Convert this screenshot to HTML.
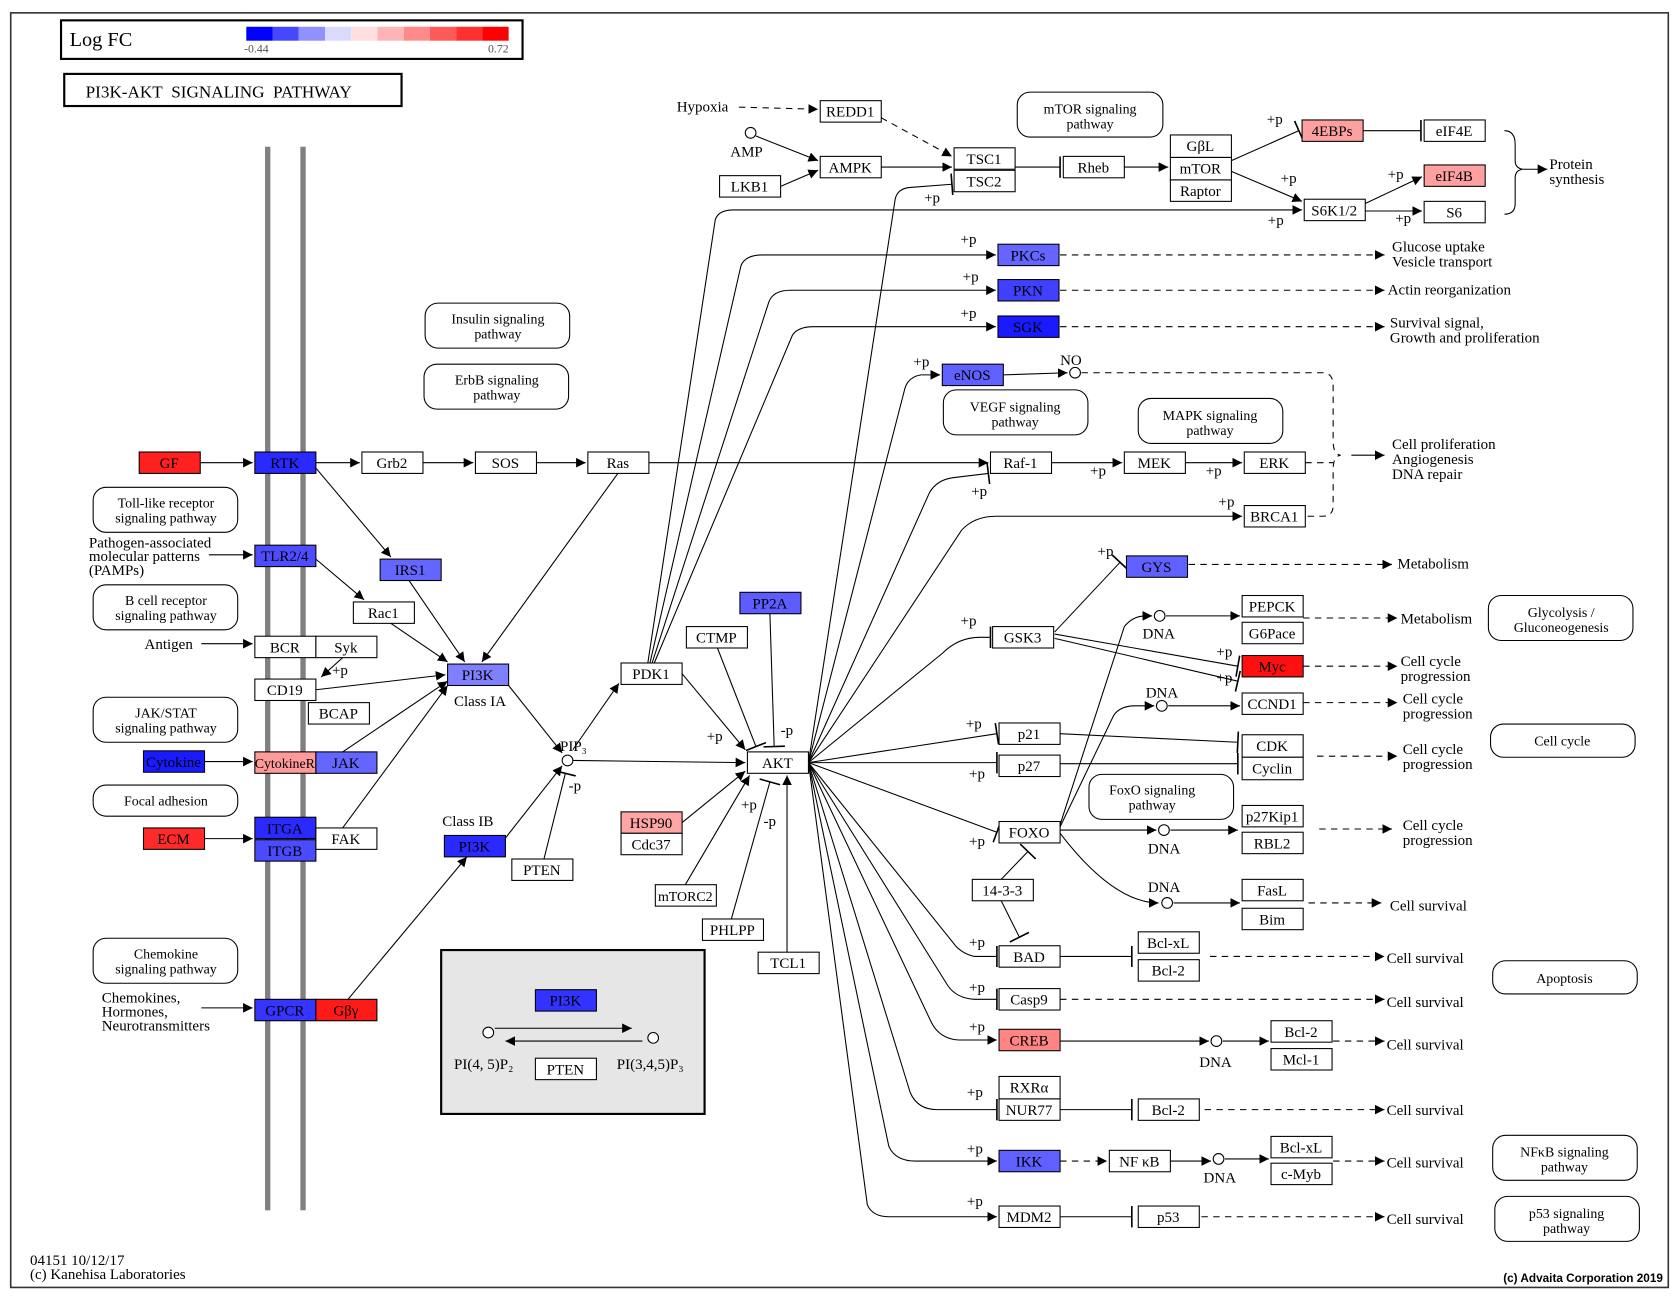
<!DOCTYPE html>
<html><head><meta charset="utf-8"><style>
html,body{margin:0;padding:0;background:#fff;}
svg{display:block;}
text{font-family:"Liberation Serif",serif;font-size:14px;fill:#000;}
.c{text-anchor:middle;}
.s{font-size:13px;}
.n{stroke:#000;stroke-width:1;}
.e{stroke:#000;stroke-width:1;fill:none;}
.d{stroke:#000;stroke-width:1;fill:none;stroke-dasharray:6,5;}
.pw{fill:#fff;stroke:#000;stroke-width:1;}
</style></head><body>
<svg width="1679" height="1296" viewBox="0 0 1568 1210" preserveAspectRatio="none" xmlns="http://www.w3.org/2000/svg">
<defs>
<marker id="a" viewBox="0 0 10 10" refX="10" refY="5" markerWidth="9" markerHeight="9" orient="auto" markerUnits="userSpaceOnUse"><path d="M0,0L10,5L0,10z" fill="#000"/></marker>
<marker id="t" viewBox="0 0 4 20" refX="2" refY="10" markerWidth="4" markerHeight="20" orient="auto" markerUnits="userSpaceOnUse"><path d="M2,0V20" stroke="#000" stroke-width="1.5"/></marker>
</defs>
<rect x="0" y="0" width="1568" height="1210" fill="#fff"/>
<rect x="10" y="12" width="1548" height="1190" fill="none" stroke="#333" stroke-width="1.5"/>
<rect x="57" y="19" width="431" height="36" fill="#fff" stroke="#000" stroke-width="2"/>
<text x="65" y="43" style="font-size:19px">Log FC</text>
<g>
<rect x="230" y="25" width="24.5" height="13" fill="#0000ff"/><rect x="254.5" y="25" width="24.5" height="13" fill="#4747ff"/><rect x="279" y="25" width="24.5" height="13" fill="#9090ff"/><rect x="303.5" y="25" width="24.5" height="13" fill="#dadaff"/><rect x="328" y="25" width="24.5" height="13" fill="#ffdfdf"/><rect x="352.5" y="25" width="24.5" height="13" fill="#ffb5b5"/><rect x="377" y="25" width="24.5" height="13" fill="#ff8a8a"/><rect x="401.5" y="25" width="24.5" height="13" fill="#ff5a5a"/><rect x="426" y="25" width="24.5" height="13" fill="#ff3030"/><rect x="450.5" y="25" width="24.5" height="13" fill="#ff0000"/>
</g>
<text x="228" y="49" style="font-size:11px;fill:#555">-0.44</text>
<text x="475" y="49" style="font-size:11px;fill:#555;text-anchor:end">0.72</text>
<rect x="60" y="69" width="315" height="30" fill="#fff" stroke="#000" stroke-width="2"/>
<text x="80" y="91" style="font-size:16px">PI3K-AKT&#160; SIGNALING&#160; PATHWAY</text>
<rect x="247.5" y="137" width="5" height="993" fill="#808080"/>
<rect x="280.5" y="137" width="5" height="993" fill="#808080"/>

<rect class="pw" x="397" y="283" width="135" height="42" rx="12"/><text class="c s" x="465" y="302">Insulin signaling</text><text class="c s" x="465" y="316">pathway</text>
<rect class="pw" x="396" y="340" width="135" height="42" rx="12"/><text class="c s" x="464" y="359">ErbB signaling</text><text class="c s" x="464" y="373">pathway</text>
<rect class="pw" x="950" y="86" width="136" height="42" rx="12"/><text class="c s" x="1018" y="106">mTOR signaling</text><text class="c s" x="1018" y="120">pathway</text>
<rect class="pw" x="881" y="364" width="135" height="42" rx="12"/><text class="c s" x="948" y="384">VEGF signaling</text><text class="c s" x="948" y="398">pathway</text>
<rect class="pw" x="1063" y="372" width="135" height="42" rx="12"/><text class="c s" x="1130" y="392">MAPK signaling</text><text class="c s" x="1130" y="406">pathway</text>
<rect class="pw" x="87" y="455" width="135" height="42" rx="12"/><text class="c s" x="155" y="474">Toll-like receptor</text><text class="c s" x="155" y="488">signaling pathway</text>
<rect class="pw" x="87" y="546" width="135" height="42" rx="12"/><text class="c s" x="155" y="565">B cell receptor</text><text class="c s" x="155" y="579">signaling pathway</text>
<rect class="pw" x="87" y="651" width="135" height="42" rx="12"/><text class="c s" x="155" y="670">JAK/STAT</text><text class="c s" x="155" y="684">signaling pathway</text>
<rect class="pw" x="87" y="733" width="135" height="29" rx="12"/><text class="c s" x="155" y="752">Focal adhesion</text>
<rect class="pw" x="87" y="876" width="135" height="42" rx="12"/><text class="c s" x="155" y="895">Chemokine</text><text class="c s" x="155" y="909">signaling pathway</text>
<rect class="pw" x="1017" y="723" width="135" height="42" rx="12"/><text class="c s" x="1076" y="742">FoxO signaling</text><text class="c s" x="1076" y="756">pathway</text>
<rect class="pw" x="1390" y="556" width="135" height="42" rx="12"/><text class="c s" x="1458" y="576">Glycolysis /</text><text class="c s" x="1458" y="590">Gluconeogenesis</text>
<rect class="pw" x="1392" y="676" width="135" height="31" rx="12"/><text class="c s" x="1459" y="696">Cell cycle</text>
<rect class="pw" x="1394" y="897" width="135" height="31" rx="12"/><text class="c s" x="1461" y="918">Apoptosis</text>
<rect class="pw" x="1394" y="1060" width="135" height="42" rx="12"/><text class="c s" x="1461" y="1080">NFκB signaling</text><text class="c s" x="1461" y="1094">pathway</text>
<rect class="pw" x="1396" y="1117" width="135" height="42" rx="12"/><text class="c s" x="1463" y="1137">p53 signaling</text><text class="c s" x="1463" y="1151">pathway</text>

<rect x="412" y="887" width="246" height="153" fill="#e6e6e6" stroke="#000" stroke-width="2"/>
<rect class="n" x="500" y="924" width="57" height="20" fill="#3333ff"/><text class="c" x="528" y="939">PI3K</text>
<circle cx="456" cy="964" r="5" fill="#fff" stroke="#000"/><circle cx="610" cy="969" r="5" fill="#fff" stroke="#000"/>
<line class="e" x1="462" y1="960" x2="590" y2="960" marker-end="url(#a)"/>
<line class="e" x1="600" y1="972" x2="472" y2="972" marker-end="url(#a)"/>
<rect class="n" x="500" y="988" width="57" height="20" fill="#fff"/><text class="c" x="528" y="1003">PTEN</text>
<text x="424" y="998">PI(4, 5)P₂</text><text x="576" y="998">PI(3,4,5)P₃</text>

<g class="e">
<line x1="187" y1="432" x2="236" y2="432" marker-end="url(#a)"/>
<line x1="295" y1="432" x2="336" y2="432" marker-end="url(#a)"/>
<line x1="395" y1="432" x2="442" y2="432" marker-end="url(#a)"/>
<line x1="501" y1="432" x2="547" y2="432" marker-end="url(#a)"/>
<line x1="606" y1="432" x2="923" y2="432" marker-end="url(#a)"/>
<line x1="982" y1="432" x2="1048" y2="432" marker-end="url(#a)"/>
<line x1="1107" y1="432" x2="1160" y2="432" marker-end="url(#a)"/>
<line x1="295" y1="437" x2="365" y2="520" marker-end="url(#a)"/>
<line x1="382" y1="542" x2="434" y2="618" marker-end="url(#a)"/>
<line x1="577" y1="442" x2="450" y2="618" marker-end="url(#a)"/>
<line x1="295" y1="522" x2="340" y2="560" marker-end="url(#a)"/>
<line x1="365" y1="582" x2="418" y2="618" marker-end="url(#a)"/>
<line x1="295" y1="644" x2="416" y2="630" marker-end="url(#a)"/>
<line x1="320" y1="614" x2="300" y2="632" marker-end="url(#a)"/>
<line x1="320" y1="702" x2="418" y2="636" marker-end="url(#a)"/>
<line x1="320" y1="773" x2="418" y2="640" marker-end="url(#a)"/>
<line x1="325" y1="933" x2="436" y2="800" marker-end="url(#a)"/>
<line x1="195" y1="518" x2="236" y2="518" marker-end="url(#a)"/>
<line x1="188" y1="601" x2="236" y2="601" marker-end="url(#a)"/>
<line x1="188" y1="941" x2="236" y2="941" marker-end="url(#a)"/>
<line x1="191" y1="711" x2="236" y2="711" marker-end="url(#a)"/>
<line x1="191" y1="783" x2="236" y2="783" marker-end="url(#a)"/>
<line x1="475" y1="640" x2="525" y2="703" marker-end="url(#a)"/>
<line x1="470" y1="785" x2="525" y2="715" marker-end="url(#a)"/>
<line x1="535" y1="710" x2="696" y2="712" marker-end="url(#a)"/>
<line x1="535" y1="700" x2="578" y2="638" marker-end="url(#a)"/>
<line x1="508" y1="802" x2="528" y2="722" marker-end="url(#t)"/>
<line x1="637" y1="629" x2="696" y2="700" marker-end="url(#a)"/>
<line x1="670" y1="605" x2="706" y2="697" marker-end="url(#t)"/>
<line x1="719" y1="573" x2="723" y2="697" marker-end="url(#t)"/>
<line x1="637" y1="768" x2="696" y2="720" marker-end="url(#a)"/>
<line x1="640" y1="826" x2="700" y2="724" marker-end="url(#a)"/>
<line x1="683" y1="858" x2="719" y2="730" marker-end="url(#t)"/>
<line x1="735" y1="889" x2="735" y2="724" marker-end="url(#a)"/>
<path d="M605,619 L668,205 Q671,196 685,196 L1216,196" marker-end="url(#a)"/>
<path d="M607,619 L692,248 Q696,238 712,238 L930,238" marker-end="url(#a)"/>
<path d="M609,619 L718,282 Q722,271 738,271 L930,271" marker-end="url(#a)"/>
<path d="M611,619 L740,313 Q745,305 760,305 L930,305" marker-end="url(#a)"/>
<path d="M755,712 L836,186 Q838,176 850,175 L889,172" marker-end="url(#t)"/>
<path d="M755,712 L845,363 Q848,352 860,350 L878,350" marker-end="url(#a)"/>
<path d="M755,712 L868,460 Q875,448 890,446 L923,442" marker-end="url(#t)"/>
<path d="M755,712 L898,495 Q910,482 930,482 L1160,482" marker-end="url(#a)"/>
<path d="M755,712 L880,610 Q895,595 915,595 L925,595" marker-end="url(#t)"/>
<line x1="755" y1="712" x2="931" y2="685" marker-end="url(#t)"/>
<line x1="755" y1="712" x2="931" y2="712" marker-end="url(#t)"/>
<line x1="755" y1="712" x2="931" y2="777" marker-end="url(#t)"/>
<path d="M755,712 L890,880 Q897,890 910,893 L931,893" marker-end="url(#t)"/>
<path d="M755,712 L885,920 Q893,932 910,933 L931,933" marker-end="url(#t)"/>
<path d="M755,712 L870,955 Q878,970 895,971 L931,971" marker-end="url(#a)"/>
<path d="M755,712 L850,1020 Q857,1036 875,1036 L931,1036" marker-end="url(#t)"/>
<path d="M755,712 L830,1070 Q836,1084 855,1084 L931,1084" marker-end="url(#a)"/>
<path d="M755,712 L810,1125 Q815,1136 830,1136 L931,1136" marker-end="url(#a)"/>
<line class="d" x1="690" y1="100" x2="764" y2="102" marker-end="url(#a)"/>
<line class="d" x1="823" y1="110" x2="889" y2="146" marker-end="url(#a)"/>
<line x1="706" y1="127" x2="764" y2="150" marker-end="url(#a)"/>
<line x1="729" y1="174" x2="764" y2="159" marker-end="url(#a)"/>
<line x1="823" y1="156" x2="889" y2="156" marker-end="url(#a)"/>
<line x1="948" y1="156" x2="990" y2="156" marker-end="url(#t)"/>
<line x1="1050" y1="156" x2="1091" y2="156" marker-end="url(#a)"/>
<line x1="1150" y1="150" x2="1213" y2="122" marker-end="url(#t)"/>
<line x1="1273" y1="122" x2="1327" y2="122" marker-end="url(#t)"/>
<line x1="1150" y1="160" x2="1216" y2="188" marker-end="url(#a)"/>
<line x1="1275" y1="190" x2="1328" y2="165" marker-end="url(#a)"/>
<line x1="1275" y1="197" x2="1328" y2="197" marker-end="url(#a)"/>
<path d="M1405,122 Q1415,122 1415,135 L1415,150 Q1415,157 1422,158 Q1415,159 1415,166 L1415,190 Q1415,200 1405,200"/>
<line x1="1422" y1="158" x2="1445" y2="158" marker-end="url(#a)"/>
</g>
<g class="d">
<line x1="990" y1="238" x2="1293" y2="238" marker-end="url(#a)"/>
<line x1="990" y1="271" x2="1293" y2="271" marker-end="url(#a)"/>
<line x1="990" y1="305" x2="1293" y2="305" marker-end="url(#a)"/>
<path d="M1010,348 L1235,348 Q1245,348 1245,360 L1245,412 Q1245,424 1252,425 Q1245,426 1245,438 L1245,472 Q1245,482 1235,482 L1219,482"/>
<line x1="1219" y1="432" x2="1245" y2="432"/>
<line class="d" x1="1110" y1="527" x2="1300" y2="527" marker-end="url(#a)"/>
<line x1="1217" y1="577" x2="1305" y2="577" marker-end="url(#a)"/>
<line x1="1217" y1="622" x2="1305" y2="622" marker-end="url(#a)"/>
<line x1="1217" y1="656" x2="1305" y2="656" marker-end="url(#a)"/>
<line x1="1230" y1="706" x2="1305" y2="706" marker-end="url(#a)"/>
<line x1="1232" y1="774" x2="1300" y2="774" marker-end="url(#a)"/>
<line x1="1222" y1="843" x2="1290" y2="843" marker-end="url(#a)"/>
<line x1="1130" y1="893" x2="1293" y2="893" marker-end="url(#a)"/>
<line x1="990" y1="933" x2="1293" y2="933" marker-end="url(#a)"/>
<line x1="1245" y1="972" x2="1293" y2="972" marker-end="url(#a)"/>
<line x1="1125" y1="1036" x2="1293" y2="1036" marker-end="url(#a)"/>
<line x1="990" y1="1084" x2="1034" y2="1084" marker-end="url(#a)"/>
<line x1="1245" y1="1084" x2="1293" y2="1084" marker-end="url(#a)"/>
<line x1="1122" y1="1136" x2="1293" y2="1136" marker-end="url(#a)"/>
</g>
<g class="e">
<line x1="1262" y1="425" x2="1293" y2="425" marker-end="url(#a)"/>
<line x1="937" y1="350" x2="997" y2="348" marker-end="url(#a)"/>
<line x1="985" y1="590" x2="1046" y2="525" marker-end="url(#t)"/>
<line x1="985" y1="592" x2="1156" y2="622" marker-end="url(#t)"/>
<line x1="985" y1="596" x2="1156" y2="636" marker-end="url(#t)"/>
<path d="M990,770 L1050,585 Q1058,575 1070,575 L1076,575" marker-end="url(#a)"/>
<line x1="1089" y1="575" x2="1158" y2="575" marker-end="url(#a)"/>
<path d="M990,772 L1040,668 Q1046,659 1060,659 L1078,659" marker-end="url(#a)"/>
<line x1="1091" y1="659" x2="1158" y2="659" marker-end="url(#a)"/>
<line x1="990" y1="775" x2="1080" y2="775" marker-end="url(#a)"/>
<line x1="1093" y1="775" x2="1156" y2="775" marker-end="url(#a)"/>
<path d="M990,778 Q1040,843 1082,843" marker-end="url(#a)"/>
<line x1="1096" y1="843" x2="1158" y2="843" marker-end="url(#a)"/>
<line x1="990" y1="685" x2="1156" y2="693" marker-end="url(#t)"/>
<line x1="990" y1="713" x2="1156" y2="713" marker-end="url(#t)"/>
<line x1="935" y1="821" x2="960" y2="795" marker-end="url(#t)"/>
<line x1="935" y1="841" x2="952" y2="875" marker-end="url(#t)"/>
<line x1="990" y1="893" x2="1057" y2="893" marker-end="url(#t)"/>
<line x1="990" y1="972" x2="1129" y2="972" marker-end="url(#a)"/>
<line x1="1142" y1="972" x2="1185" y2="972" marker-end="url(#a)"/>
<line x1="990" y1="1036" x2="1057" y2="1036" marker-end="url(#t)"/>
<line x1="1093" y1="1084" x2="1131" y2="1084" marker-end="url(#a)"/>
<line x1="1144" y1="1082" x2="1185" y2="1082" marker-end="url(#a)"/>
<line x1="990" y1="1136" x2="1057" y2="1136" marker-end="url(#t)"/>
</g>
<g fill="#fff" stroke="#000">
<circle cx="701" cy="124" r="5"/><circle cx="1004" cy="348" r="5"/><circle cx="530" cy="710" r="5"/>
<circle cx="1083" cy="575" r="5"/><circle cx="1085" cy="659" r="5"/><circle cx="1087" cy="775" r="5"/><circle cx="1090" cy="843" r="5"/><circle cx="1136" cy="972" r="5"/><circle cx="1138" cy="1082" r="5"/>
</g>

<g>
<rect class="n" x="130" y="422" width="57" height="20" fill="#ff2020"/><text class="c" x="158" y="437">GF</text>
<rect class="n" x="238" y="422" width="57" height="20" fill="#2a2aff"/><text class="c" x="266" y="437">RTK</text>
<rect class="n" x="338" y="422" width="57" height="20" fill="#fff"/><text class="c" x="366" y="437">Grb2</text>
<rect class="n" x="444" y="422" width="57" height="20" fill="#fff"/><text class="c" x="472" y="437">SOS</text>
<rect class="n" x="549" y="422" width="57" height="20" fill="#fff"/><text class="c" x="577" y="437">Ras</text>
<rect class="n" x="925" y="422" width="57" height="20" fill="#fff"/><text class="c" x="953" y="437">Raf-1</text>
<rect class="n" x="1050" y="422" width="57" height="20" fill="#fff"/><text class="c" x="1078" y="437">MEK</text>
<rect class="n" x="1162" y="422" width="57" height="20" fill="#fff"/><text class="c" x="1190" y="437">ERK</text>
<rect class="n" x="1162" y="472" width="57" height="20" fill="#fff"/><text class="c" x="1190" y="487">BRCA1</text>
<rect class="n" x="355" y="522" width="57" height="20" fill="#6565ff"/><text class="c" x="383" y="537">IRS1</text>
<rect class="n" x="238" y="509" width="57" height="20" fill="#4d4dff"/><text class="c" x="266" y="524">TLR2/4</text>
<rect class="n" x="330" y="562" width="57" height="20" fill="#fff"/><text class="c" x="358" y="577">Rac1</text>
<rect class="n" x="238" y="594" width="57" height="20" fill="#fff"/><text class="c" x="266" y="609">BCR</text>
<rect class="n" x="295" y="594" width="57" height="20" fill="#fff"/><text class="c" x="323" y="609">Syk</text>
<rect class="n" x="238" y="634" width="57" height="20" fill="#fff"/><text class="c" x="266" y="649">CD19</text>
<rect class="n" x="288" y="656" width="57" height="20" fill="#fff"/><text class="c" x="316" y="671">BCAP</text>
<rect class="n" x="418" y="620" width="57" height="20" fill="#8080ff"/><text class="c" x="446" y="635">PI3K</text>
<rect class="n" x="134" y="701" width="57" height="20" fill="#1a1aff"/><text class="c" x="162" y="716">Cytokine</text>
<rect class="n" x="238" y="702" width="57" height="20" fill="#ff9a9a"/><text class="c" x="266" y="717" style="font-size:13px">CytokineR</text>
<rect class="n" x="295" y="702" width="57" height="20" fill="#6565ff"/><text class="c" x="323" y="717">JAK</text>
<rect class="n" x="134" y="773" width="57" height="20" fill="#ff2a2a"/><text class="c" x="162" y="788">ECM</text>
<rect class="n" x="238" y="763" width="57" height="20" fill="#2a2aff"/><text class="c" x="266" y="778">ITGA</text>
<rect class="n" x="238" y="784" width="57" height="20" fill="#4a4aff"/><text class="c" x="266" y="799">ITGB</text>
<rect class="n" x="295" y="773" width="57" height="20" fill="#fff"/><text class="c" x="323" y="788">FAK</text>
<rect class="n" x="415" y="780" width="57" height="20" fill="#2a2aff"/><text class="c" x="443" y="795">PI3K</text>
<rect class="n" x="238" y="933" width="57" height="20" fill="#3535ff"/><text class="c" x="266" y="948">GPCR</text>
<rect class="n" x="295" y="933" width="57" height="20" fill="#ff1a1a"/><text class="c" x="323" y="948">Gβγ</text>
<rect class="n" x="478" y="802" width="57" height="20" fill="#fff"/><text class="c" x="506" y="817">PTEN</text>
<rect class="n" x="580" y="619" width="57" height="20" fill="#fff"/><text class="c" x="608" y="634">PDK1</text>
<rect class="n" x="641" y="585" width="57" height="20" fill="#fff"/><text class="c" x="669" y="600">CTMP</text>
<rect class="n" x="691" y="553" width="57" height="20" fill="#5c5cff"/><text class="c" x="719" y="568">PP2A</text>
<rect class="n" x="698" y="702" width="57" height="20" fill="#fff" stroke-width="1.5"/><text class="c" x="726" y="717">AKT</text>
<rect class="n" x="580" y="758" width="57" height="20" fill="#ffa5a5"/><text class="c" x="608" y="773">HSP90</text>
<rect class="n" x="580" y="778" width="57" height="20" fill="#fff"/><text class="c" x="608" y="793">Cdc37</text>
<rect class="n" x="612" y="826" width="57" height="20" fill="#fff"/><text class="c" x="640" y="841" style="font-size:13px">mTORC2</text>
<rect class="n" x="656" y="858" width="57" height="20" fill="#fff"/><text class="c" x="684" y="873">PHLPP</text>
<rect class="n" x="708" y="889" width="57" height="20" fill="#fff"/><text class="c" x="736" y="904">TCL1</text>
<rect class="n" x="766" y="94" width="57" height="20" fill="#fff"/><text class="c" x="794" y="109">REDD1</text>
<rect class="n" x="766" y="146" width="57" height="20" fill="#fff"/><text class="c" x="794" y="161">AMPK</text>
<rect class="n" x="672" y="164" width="57" height="20" fill="#fff"/><text class="c" x="700" y="179">LKB1</text>
<rect class="n" x="891" y="138" width="57" height="20" fill="#fff"/><text class="c" x="919" y="153">TSC1</text>
<rect class="n" x="891" y="159" width="57" height="20" fill="#fff"/><text class="c" x="919" y="174">TSC2</text>
<rect class="n" x="993" y="146" width="57" height="20" fill="#fff"/><text class="c" x="1021" y="161">Rheb</text>
<rect class="n" x="1093" y="126" width="57" height="21" fill="#fff"/><text class="c" x="1121" y="141">GβL</text>
<rect class="n" x="1093" y="147" width="57" height="21" fill="#fff"/><text class="c" x="1121" y="162">mTOR</text>
<rect class="n" x="1093" y="168" width="57" height="20" fill="#fff"/><text class="c" x="1121" y="183">Raptor</text>
<rect class="n" x="1216" y="112" width="57" height="20" fill="#ffa0a0"/><text class="c" x="1244" y="127">4EBPs</text>
<rect class="n" x="1330" y="112" width="57" height="20" fill="#fff"/><text class="c" x="1358" y="127">eIF4E</text>
<rect class="n" x="1330" y="154" width="57" height="20" fill="#ffa0a0"/><text class="c" x="1358" y="169">eIF4B</text>
<rect class="n" x="1218" y="186" width="57" height="20" fill="#fff"/><text class="c" x="1246" y="201">S6K1/2</text>
<rect class="n" x="1330" y="188" width="57" height="20" fill="#fff"/><text class="c" x="1358" y="203">S6</text>
<rect class="n" x="932" y="228" width="57" height="20" fill="#6565ff"/><text class="c" x="960" y="243">PKCs</text>
<rect class="n" x="932" y="261" width="57" height="20" fill="#4040ff"/><text class="c" x="960" y="276">PKN</text>
<rect class="n" x="932" y="295" width="57" height="20" fill="#1a1aff"/><text class="c" x="960" y="310">SGK</text>
<rect class="n" x="880" y="340" width="57" height="20" fill="#6060ff"/><text class="c" x="908" y="355">eNOS</text>
<rect class="n" x="1052" y="519" width="57" height="20" fill="#6060ff"/><text class="c" x="1080" y="534">GYS</text>
<rect class="n" x="1160" y="556" width="57" height="20" fill="#fff"/><text class="c" x="1188" y="571">PEPCK</text>
<rect class="n" x="1160" y="581" width="57" height="20" fill="#fff"/><text class="c" x="1188" y="596">G6Pace</text>
<rect class="n" x="1160" y="612" width="57" height="20" fill="#ff1010"/><text class="c" x="1188" y="627">Myc</text>
<rect class="n" x="1160" y="647" width="57" height="20" fill="#fff"/><text class="c" x="1188" y="662">CCND1</text>
<rect class="n" x="1160" y="686" width="57" height="21" fill="#fff"/><text class="c" x="1188" y="701">CDK</text>
<rect class="n" x="1160" y="707" width="57" height="21" fill="#fff"/><text class="c" x="1188" y="722">Cyclin</text>
<rect class="n" x="933" y="675" width="57" height="20" fill="#fff"/><text class="c" x="961" y="690">p21</text>
<rect class="n" x="933" y="705" width="57" height="20" fill="#fff"/><text class="c" x="961" y="720">p27</text>
<rect class="n" x="927" y="585" width="57" height="20" fill="#fff"/><text class="c" x="955" y="600">GSK3</text>
<rect class="n" x="933" y="767" width="57" height="20" fill="#fff"/><text class="c" x="961" y="782">FOXO</text>
<rect class="n" x="1160" y="752" width="57" height="20" fill="#fff"/><text class="c" x="1188" y="767">p27Kip1</text>
<rect class="n" x="1160" y="777" width="57" height="20" fill="#fff"/><text class="c" x="1188" y="792">RBL2</text>
<rect class="n" x="908" y="821" width="57" height="20" fill="#fff"/><text class="c" x="936" y="836">14-3-3</text>
<rect class="n" x="1160" y="821" width="57" height="20" fill="#fff"/><text class="c" x="1188" y="836">FasL</text>
<rect class="n" x="1160" y="848" width="57" height="20" fill="#fff"/><text class="c" x="1188" y="863">Bim</text>
<rect class="n" x="933" y="883" width="57" height="20" fill="#fff"/><text class="c" x="961" y="898">BAD</text>
<rect class="n" x="1063" y="870" width="57" height="20" fill="#fff"/><text class="c" x="1091" y="885">Bcl-xL</text>
<rect class="n" x="1063" y="896" width="57" height="20" fill="#fff"/><text class="c" x="1091" y="911">Bcl-2</text>
<rect class="n" x="933" y="923" width="57" height="20" fill="#fff"/><text class="c" x="961" y="938">Casp9</text>
<rect class="n" x="933" y="961" width="57" height="20" fill="#ff8585"/><text class="c" x="961" y="976">CREB</text>
<rect class="n" x="1187" y="953" width="57" height="20" fill="#fff"/><text class="c" x="1215" y="968">Bcl-2</text>
<rect class="n" x="1187" y="979" width="57" height="20" fill="#fff"/><text class="c" x="1215" y="994">Mcl-1</text>
<rect class="n" x="933" y="1005" width="57" height="21" fill="#fff"/><text class="c" x="961" y="1020">RXRα</text>
<rect class="n" x="933" y="1026" width="57" height="20" fill="#fff"/><text class="c" x="961" y="1041">NUR77</text>
<rect class="n" x="1063" y="1026" width="57" height="20" fill="#fff"/><text class="c" x="1091" y="1041">Bcl-2</text>
<rect class="n" x="933" y="1074" width="57" height="20" fill="#6060ff"/><text class="c" x="961" y="1089">IKK</text>
<rect class="n" x="1036" y="1074" width="57" height="20" fill="#fff"/><text class="c" x="1064" y="1089">NF κB</text>
<rect class="n" x="1187" y="1061" width="57" height="20" fill="#fff"/><text class="c" x="1215" y="1076">Bcl-xL</text>
<rect class="n" x="1187" y="1086" width="57" height="20" fill="#fff"/><text class="c" x="1215" y="1101">c-Myb</text>
<rect class="n" x="933" y="1126" width="57" height="20" fill="#fff"/><text class="c" x="961" y="1141">MDM2</text>
<rect class="n" x="1063" y="1126" width="57" height="20" fill="#fff"/><text class="c" x="1091" y="1141">p53</text>
</g>

<g class="s">
<text x="632" y="104">Hypoxia</text><text x="682" y="146">AMP</text><text x="990" y="341">NO</text>
<text x="1447" y="158">Protein</text><text x="1447" y="172">synthesis</text>
<text x="1300" y="235">Glucose uptake</text><text x="1300" y="249">Vesicle transport</text>
<text x="1296" y="275">Actin reorganization</text>
<text x="1298" y="306">Survival signal,</text><text x="1298" y="320">Growth and proliferation</text>
<text x="1300" y="419">Cell proliferation</text><text x="1300" y="433">Angiogenesis</text><text x="1300" y="447">DNA repair</text>
<text x="1305" y="531">Metabolism</text><text x="1308" y="582">Metabolism</text>
<text x="1308" y="622">Cell cycle</text><text x="1308" y="636">progression</text>
<text x="1310" y="657">Cell cycle</text><text x="1310" y="671">progression</text>
<text x="1310" y="704">Cell cycle</text><text x="1310" y="718">progression</text>
<text x="1310" y="775">Cell cycle</text><text x="1310" y="789">progression</text>
<text x="1298" y="850">Cell survival</text><text x="1295" y="899">Cell survival</text><text x="1295" y="940">Cell survival</text><text x="1295" y="980">Cell survival</text><text x="1295" y="1041">Cell survival</text><text x="1295" y="1090">Cell survival</text><text x="1295" y="1143">Cell survival</text>
<text x="1067" y="596">DNA</text><text x="1070" y="651">DNA</text><text x="1072" y="797">DNA</text><text x="1072" y="833">DNA</text><text x="1120" y="996">DNA</text><text x="1124" y="1104">DNA</text>
<text x="83" y="511">Pathogen-associated</text><text x="83" y="524">molecular patterns</text><text x="83" y="537">(PAMPs)</text>
<text x="135" y="606">Antigen</text>
<text x="95" y="936">Chemokines,</text><text x="95" y="949">Hormones,</text><text x="95" y="962">Neurotransmitters</text>
<text x="424" y="659">Class IA</text><text x="413" y="771">Class IB</text><text x="523" y="701">PIP₃</text>
<text x="28" y="1181">04151 10/12/17</text><text x="28" y="1194">(c) Kanehisa Laboratories</text>
<text x="310" y="630">+p</text><text x="660" y="692">+p</text><text x="729" y="686">-p</text><text x="531" y="738">-p</text><text x="692" y="756">+p</text><text x="713" y="771">-p</text>
<text x="863" y="189">+p</text><text x="897" y="228">+p</text><text x="899" y="263">+p</text><text x="897" y="297">+p</text><text x="853" y="342">+p</text>
<text x="907" y="463">+p</text><text x="1018" y="444">+p</text><text x="1126" y="444">+p</text><text x="1138" y="473">+p</text><text x="1025" y="519">+p</text>
<text x="897" y="584">+p</text><text x="902" y="680">+p</text><text x="905" y="727">+p</text><text x="905" y="790">+p</text><text x="905" y="884">+p</text><text x="905" y="926">+p</text><text x="905" y="963">+p</text><text x="903" y="1024">+p</text><text x="903" y="1077">+p</text><text x="903" y="1126">+p</text>
<text x="1183" y="116">+p</text><text x="1196" y="171">+p</text><text x="1296" y="167">+p</text><text x="1184" y="210">+p</text><text x="1303" y="208">+p</text>
<text x="1136" y="613">+p</text><text x="1136" y="637">+p</text>
</g>
<text x="1553" y="1197" style="font-family:'Liberation Sans',sans-serif;font-size:11px;font-weight:bold;text-anchor:end">(c) Advaita Corporation 2019</text>
</svg>
</body></html>
